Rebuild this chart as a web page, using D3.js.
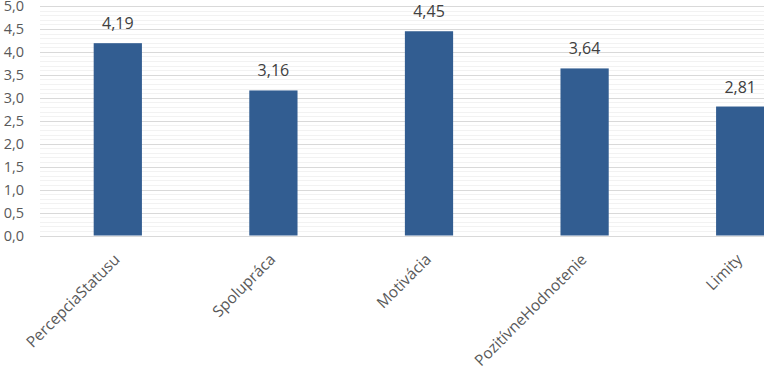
<!DOCTYPE html>
<html>
<head>
<meta charset="utf-8">
<script src="https://cdn.jsdelivr.net/npm/d3@7"></script>
<style>
  body { margin: 0; background: #fff; }
  svg { display: block; font-family: "Open Sans", "Noto Sans", sans-serif; }
</style>
</head>
<body>
<svg id="chart" width="764" height="372"></svg>
<script>
const categories = ['PercepciaStatusu', 'Spolupráca', 'Motivácia', 'PozitívneHodnotenie', 'Limity'];
const values = [4.19, 3.16, 4.45, 3.64, 2.81];
const yTicks = [0, 0.5, 1, 1.5, 2, 2.5, 3, 3.5, 4, 4.5, 5];

const svg = d3.select('#chart');
const plotLeft = 40;
const plotRight = 818; // plot runs past the window edge, as in the reference
const plotTop = 6;
const plotBottom = 235.5;

const fmt = v => d3.format('.1f')(v).replace('.', ',');
const fmt2 = v => d3.format('.2f')(v).replace('.', ',');

const x = d3.scaleBand().domain(categories).range([plotLeft, plotRight]).paddingInner(0.69).paddingOuter(0.345);
const y = d3.scaleLinear().domain([0, 5]).range([plotBottom, plotTop]);

// minor gridlines
const minor = d3.range(0, 5.001, 0.1);
svg.append('g').selectAll('line')
  .data(minor)
  .enter()
  .append('line')
  .attr('x1', plotLeft).attr('x2', plotRight)
  .attr('y1', d => Math.round(y(d)) + 0.5)
  .attr('y2', d => Math.round(y(d)) + 0.5)
  .attr('stroke', '#f2f2f2');

// major gridlines
svg.append('g').selectAll('line')
  .data(yTicks)
  .enter()
  .append('line')
  .attr('x1', plotLeft).attr('x2', plotRight)
  .attr('y1', d => Math.round(y(d)) + 0.5)
  .attr('y2', d => Math.round(y(d)) + 0.5)
  .attr('stroke', '#d9d9d9');

// y labels
svg.append('g').selectAll('text')
  .data(yTicks)
  .enter()
  .append('text')
  .attr('x', 24)
  .attr('y', d => y(d))
  .attr('dy', '0.35em')
  .attr('text-anchor', 'end')
  .attr('fill', '#595959')
  .style('font-size', '14.5px')
  .text(fmt);

// bars
svg.append('g').selectAll('rect')
  .data(values)
  .enter()
  .append('rect')
  .attr('x', (d, i) => x(categories[i]))
  .attr('width', x.bandwidth())
  .attr('y', d => y(d))
  .attr('height', d => y(0) - y(d))
  .attr('fill', '#325d91');

// value labels
svg.append('g').selectAll('text')
  .data(values)
  .enter()
  .append('text')
  .attr('x', (d, i) => x(categories[i]) + x.bandwidth() / 2)
  .attr('y', d => y(d) - 14)
  .attr('text-anchor', 'middle')
  .attr('fill', '#404040')
  .style('font-size', '16px')
  .text(fmt2);

// category labels, rotated
svg.append('g').selectAll('text')
  .data(categories)
  .enter()
  .append('text')
  .attr('transform', d => `translate(${x(d) + x.bandwidth() / 2 + 3},${plotBottom + 25}) rotate(-45)`)
  .attr('text-anchor', 'end')
  .attr('fill', '#595959')
  .style('font-size', '15.5px')
  .text(d => d);
</script>
</body>
</html>
